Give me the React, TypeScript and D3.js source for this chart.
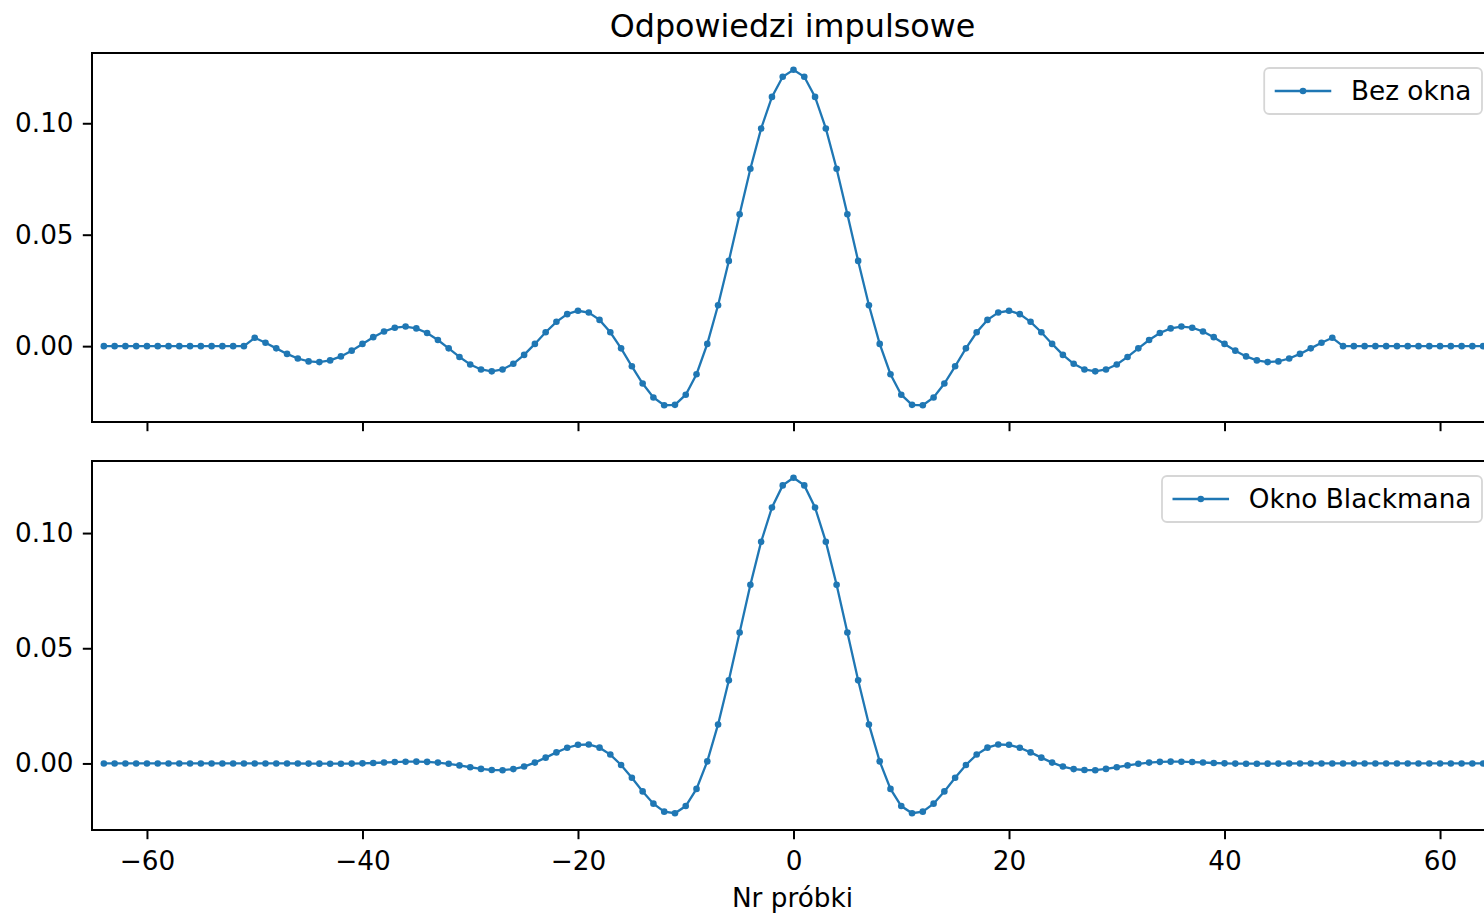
// Odpowiedzi impulsowe — two stacked stem-like line plots (no window vs Blackman window)
import { useEffect, useRef } from "react";
import * as d3 from "d3";

const W = 1484;
const H = 915;
const X_LEFT = 92;
const X_RIGHT = 1495;
const FS = 26.3; // 10pt at the figure's scale
const FONT = "DejaVu Sans, sans-serif";
const BLUE = "#1f77b4";

const SAMPLES = [
  -64, -63, -62, -61, -60, -59, -58, -57, -56, -55, -54, -53, -52, -51,
  -50, -49, -48, -47, -46, -45, -44, -43, -42, -41, -40, -39, -38, -37, -36, -35, -34, -33, -32, -31,
  -30, -29, -28, -27, -26, -25, -24, -23, -22, -21, -20, -19, -18, -17, -16, -15, -14, -13, -12, -11,
  -10, -9, -8, -7, -6, -5, -4, -3, -2, -1, 0, 1, 2, 3, 4, 5, 6, 7, 8, 9, 10,
  11, 12, 13, 14, 15, 16, 17, 18, 19, 20, 21, 22, 23, 24, 25, 26, 27, 28, 29, 30,
  31, 32, 33, 34, 35, 36, 37, 38, 39, 40, 41, 42, 43, 44, 45, 46, 47, 48, 49, 50,
  51, 52, 53, 54, 55, 56, 57, 58, 59, 60, 61, 62, 63, 64,
];

const BEZ_OKNA = [
  0, 0, 0, 0, 0, 0, 0, 0, 0, 0, 0, 0, 0, 0,
  0.00374, 0.00154, -0.001, -0.00349, -0.00555, -0.00685, -0.00716, -0.00639, -0.00461, -0.00202,
  0.001, 0.00403, 0.00659, 0.00828, 0.00879, 0.00797, 0.00587, 0.00275, -0.001, -0.00484,
  -0.00821, -0.01045, -0.01132, -0.01047, -0.00793, -0.00393, 0.001, 0.00622, 0.01092, 0.01436,
  0.01588, 0.01507, 0.01178, 0.00623, -0.001, -0.00905, -0.01678, -0.02305, -0.02651, -0.02635,
  -0.02179, -0.01261, 0.001, 0.01833, 0.03824, 0.05919, 0.07957, 0.09767, 0.11182, 0.1209,
  0.124,
  0.1209, 0.11182, 0.09767, 0.07957, 0.05919, 0.03824, 0.01833, 0.001, -0.01261, -0.02179,
  -0.02635, -0.02651, -0.02305, -0.01678, -0.00905, -0.001, 0.00623, 0.01178, 0.01507, 0.01588,
  0.01436, 0.01092, 0.00622, 0.001, -0.00393, -0.00793, -0.01047, -0.01132, -0.01045, -0.00821,
  -0.00484, -0.001, 0.00275, 0.00587, 0.00797, 0.00879, 0.00828, 0.00659, 0.00403, 0.001,
  -0.00202, -0.00461, -0.00639, -0.00716, -0.00685, -0.00555, -0.00349, -0.001, 0.00154, 0.00374,
  0, 0, 0, 0, 0, 0, 0, 0, 0, 0, 0, 0, 0, 0,
];

const BLACKMAN = [
  0, 0, 0, 0, 0, 0, 0, 0, 0, 0, 0, 0, 0, 0,
  0, 0, 0, -0.00001, -0.00003, -0.00006, -0.0001, -0.00012, -0.00011, -0.00006,
  0.00004, 0.0002, 0.0004, 0.0006, 0.00076, 0.00081, 0.00069, 0.00037, -0.00016, -0.00086,
  -0.00165, -0.00236, -0.00285, -0.00293, -0.00245, -0.00134, 0.00037, 0.00252, 0.0048, 0.00681,
  0.0081, 0.00822, 0.00685, 0.00385, -0.00065, -0.00624, -0.01214, -0.01745, -0.02093, -0.02161,
  -0.0185, -0.01105, 0.0009, 0.01693, 0.03607, 0.05684, 0.07753, 0.09626, 0.1111, 0.1207,
  0.124,
  0.1207, 0.1111, 0.09626, 0.07753, 0.05684, 0.03607, 0.01693, 0.0009, -0.01105, -0.0185,
  -0.02161, -0.02093, -0.01745, -0.01214, -0.00624, -0.00065, 0.00385, 0.00685, 0.00822, 0.0081,
  0.00681, 0.0048, 0.00252, 0.00037, -0.00134, -0.00245, -0.00285, -0.00293, -0.00236, -0.00165,
  -0.00086, -0.00016, 0.00037, 0.00069, 0.00081, 0.00076, 0.0006, 0.0004, 0.0002, 0.00004,
  -0.00006, -0.00011, -0.00012, -0.0001, -0.00006, -0.00003, -0.00001, 0, 0, 0,
  0, 0, 0, 0, 0, 0, 0, 0, 0, 0, 0, 0, 0, 0,
];

const X_TICKS = [-60, -40, -20, 0, 20, 40, 60];
const Y_TICKS = [0, 0.05, 0.1];
const TITLE = "Odpowiedzi impulsowe";
const X_LABEL = "Nr próbki";

const PANELS = [
  { top: 53, bottom: 422, values: BEZ_OKNA, label: "Bez okna", tickLabels: false },
  { top: 461, bottom: 830, values: BLACKMAN, label: "Okno Blackmana", tickLabels: true },
];

export default function App() {
  const svgRef = useRef(null);

  useEffect(() => {
    const svg = d3.select(svgRef.current);
    svg.selectAll("*").remove();

    const x = d3.scaleLinear().domain([-65.1, 65.1]).range([X_LEFT, X_RIGHT]);

    svg.append("text")
      .attr("x", (X_LEFT + X_RIGHT) / 2 - 1)
      .attr("y", 37)
      .attr("text-anchor", "middle")
      .attr("font-family", FONT)
      .attr("font-size", 31.8)
      .attr("fill", "#000")
      .text(TITLE);

    PANELS.forEach((p) => {
      const [lo, hi] = d3.extent(p.values);
      const m = (hi - lo) * 0.05;
      const y = d3.scaleLinear().domain([lo - m, hi + m]).range([p.bottom, p.top]);
      const g = svg.append("g");

      // series
      const line = d3.line()
        .x((_, i) => x(SAMPLES[i]))
        .y((d) => y(d));
      g.append("path")
        .datum(p.values)
        .attr("fill", "none")
        .attr("stroke", BLUE)
        .attr("stroke-width", 2.3)
        .attr("d", line);
      g.append("g")
        .selectAll("circle")
        .data(p.values)
        .join("circle")
        .attr("cx", (_, i) => x(SAMPLES[i]))
        .attr("cy", (d) => y(d))
        .attr("r", 3.3)
        .attr("fill", BLUE);

      // axes
      const yAxis = g.append("g")
        .attr("transform", `translate(${X_LEFT},0)`)
        .call(d3.axisLeft(y).tickValues(Y_TICKS).tickFormat(d3.format(".2f")).tickSize(9.2).tickPadding(9.2));
      const xAxis = g.append("g")
        .attr("transform", `translate(0,${p.bottom})`)
        .call(d3.axisBottom(x).tickValues(X_TICKS).tickFormat(p.tickLabels ? d3.format("d") : () => "").tickSize(9.2).tickPadding(12.5));
      [yAxis, xAxis].forEach((a) => {
        a.select(".domain").remove();
        a.selectAll("line").attr("stroke", "#000").attr("stroke-width", 2);
        a.selectAll("text").attr("font-family", FONT).attr("font-size", FS).attr("fill", "#000");
      });

      // spines
      g.append("rect")
        .attr("x", X_LEFT)
        .attr("y", p.top)
        .attr("width", X_RIGHT - X_LEFT)
        .attr("height", p.bottom - p.top)
        .attr("fill", "none")
        .attr("stroke", "#000")
        .attr("stroke-width", 2);

      // legend
      const pad = 0.4 * FS;
      const handle = 2.15 * FS;
      const gap = 0.75 * FS;
      const boxTop = p.top + 15;
      const boxH = 46;
      const cy = boxTop + boxH / 2;
      const leg = g.append("g");
      const frame = leg.append("rect");
      const txt = leg.append("text")
        .attr("font-family", FONT)
        .attr("font-size", FS)
        .attr("fill", "#000")
        .attr("dominant-baseline", "central")
        .attr("y", cy)
        .text(p.label);
      const tw = txt.node().getComputedTextLength();
      const boxW = pad + handle + gap + tw + pad;
      const boxX = X_RIGHT - 13 - boxW;
      frame
        .attr("x", boxX)
        .attr("y", boxTop)
        .attr("width", boxW)
        .attr("height", boxH)
        .attr("rx", 5)
        .attr("fill", "rgba(255,255,255,0.8)")
        .attr("stroke", "#d6d6d6")
        .attr("stroke-width", 1.8);
      txt.attr("x", boxX + pad + handle + gap);
      leg.append("line")
        .attr("x1", boxX + pad)
        .attr("x2", boxX + pad + handle)
        .attr("y1", cy)
        .attr("y2", cy)
        .attr("stroke", BLUE)
        .attr("stroke-width", 2.3);
      leg.append("circle")
        .attr("cx", boxX + pad + handle / 2)
        .attr("cy", cy)
        .attr("r", 3.3)
        .attr("fill", BLUE);
    });

    svg.append("text")
      .attr("x", (X_LEFT + X_RIGHT) / 2 - 1)
      .attr("y", 907)
      .attr("text-anchor", "middle")
      .attr("font-family", FONT)
      .attr("font-size", FS)
      .attr("fill", "#000")
      .text(X_LABEL);
  }, []);

  return (
    <svg
      ref={svgRef}
      width={W}
      height={H}
      style={{ position: "absolute", left: 0, top: 0, background: "#fff" }}
    />
  );
}
